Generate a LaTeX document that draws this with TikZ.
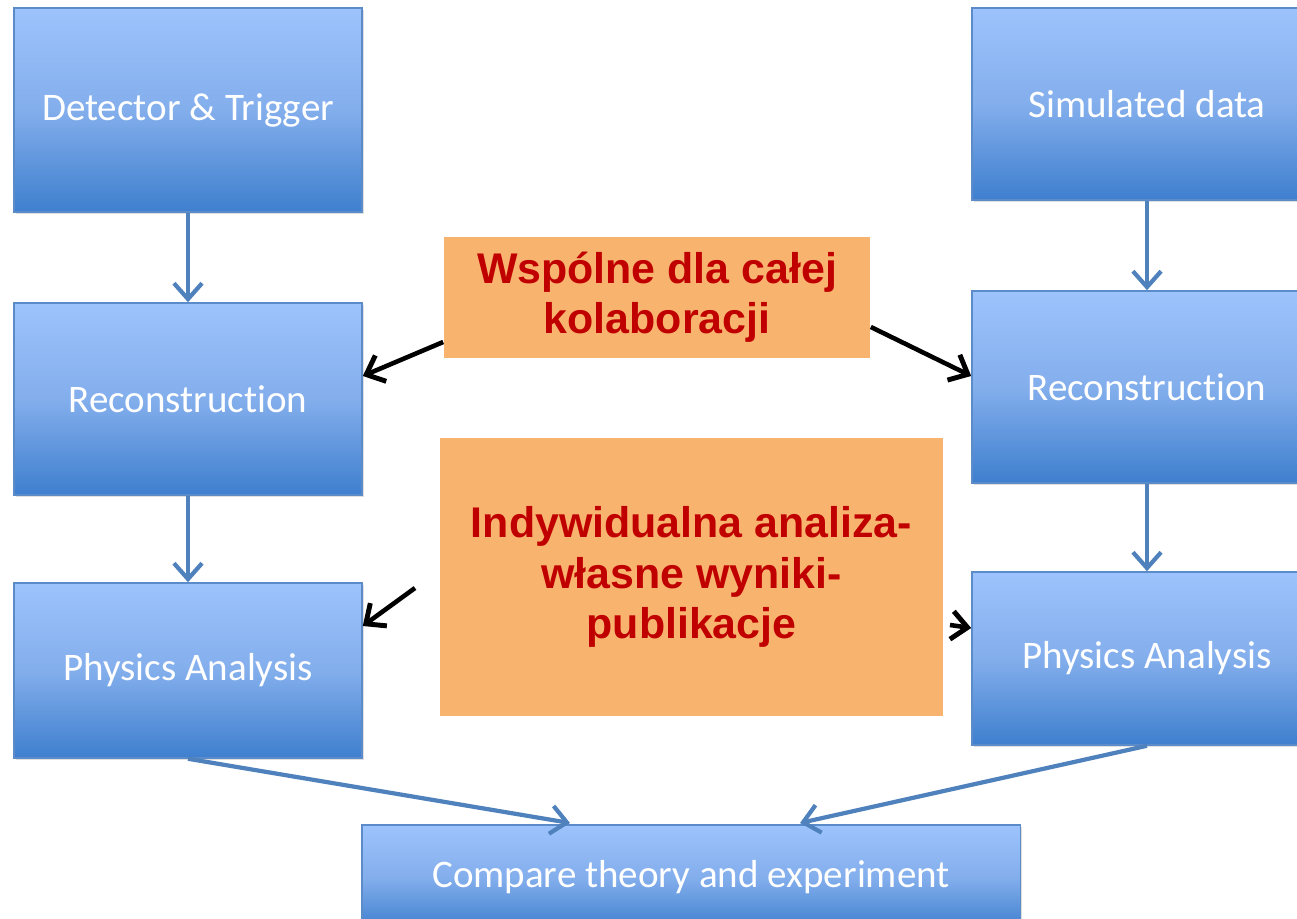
\documentclass[tikz,border=0pt]{standalone}
\usepackage{fontspec}
\setmainfont{Carlito}[Ligatures=NoCommon]
\newfontfamily\arialfont{Liberation Sans}
\usepackage{tikz}
\usetikzlibrary{arrows.meta, shadows}
\definecolor{boxtop}{HTML}{9DC3FC}
\definecolor{boxmid}{HTML}{83AEEC}
\definecolor{boxbot}{HTML}{3E7FCE}
\definecolor{boxline}{HTML}{5B8BC9}
\definecolor{flowblue}{HTML}{4F81BD}
\definecolor{notefill}{HTML}{F8B46E}
\definecolor{notetext}{HTML}{C00000}
\tikzset{
    stage/.style = {
        rectangle, draw=boxline, line width=0.4pt,
        top color=boxtop, bottom color=boxbot, middle color=boxmid,
        drop shadow={opacity=0.25, shadow xshift=0.6pt, shadow yshift=-0.6pt},
        inner sep=0pt, align=center,
        text=white, font=\fontsize{11.1}{13}\selectfont
    },
    note/.style = {
        rectangle, fill=notefill, inner sep=0pt, align=center,
        text=notetext, font=\arialfont\bfseries\fontsize{12.2}{14.3}\selectfont
    },
    flow/.style = {
        -{Straight Barb[length=4.5pt, width=8pt, line width=1.2pt]},
        draw=flowblue, line width=1.2pt
    },
    link/.style = {
        -{Straight Barb[length=4.5pt, width=8pt, line width=1.4pt]},
        draw=black, line width=1.3pt
    }
}

\begin{document}
\begin{tikzpicture}[x=0.01cm, y=-0.01cm]
\useasboundingbox (0,0) rectangle (1297,919);

% real data chain
\node (det) [stage, minimum width=3.48cm, minimum height=2.04cm] at (188,110) {Detector \& Trigger};
\node (recoL) [stage, minimum width=3.48cm, minimum height=1.92cm] at (188,399) {Reconstruction};
\node (physL) [stage, minimum width=3.48cm, minimum height=1.75cm] at (188,670.5) {Physics Analysis};

% simulation chain
\node (sim) [stage, minimum width=3.50cm, minimum height=1.92cm] at (1147,104) {Simulated data};
\node (recoR) [stage, minimum width=3.50cm, minimum height=1.92cm] at (1147,387) {Reconstruction};
\node (physR) [stage, minimum width=3.50cm, minimum height=1.73cm] at (1147,658.5) {Physics Analysis};

\node (cmp) [stage, minimum width=6.58cm, minimum height=1.05cm] at (691,877.5) {Compare theory and experiment};

% notes
\node (common) [note, minimum width=4.26cm, minimum height=1.21cm] at (657,297.5) {Wspólne dla całej\\kolaboracji};
\node (own) [note, minimum width=5.03cm, minimum height=2.78cm] at (691.5,577) {Indywidualna analiza-\\własne wyniki-\\publikacje};

\coordinate (ownL) at (415,588);
\coordinate (ownR) at (950,625);
\coordinate (cmpL) at (570,823);
\coordinate (cmpR) at (800,823);

\draw [flow] (det) -- (recoL);
\draw [flow] (recoL) -- (physL);
\draw [flow] (sim) -- (recoR);
\draw [flow] (recoR) -- (physR);
\draw [flow] (physL.south) -- (cmpL);
\draw [flow] (physR.south) -- (cmpR);

\draw [link] (common.west |- 0,342) -- (recoL.east |- 0,376);
\draw [link] (common.east |- 0,327) -- (recoR.west |- 0,376);
\draw [link] (ownL) -- (physL.east |- 0,626);
\draw [link] (ownR) -- (physR.west |- 0,628);

\end{tikzpicture}
\end{document}
